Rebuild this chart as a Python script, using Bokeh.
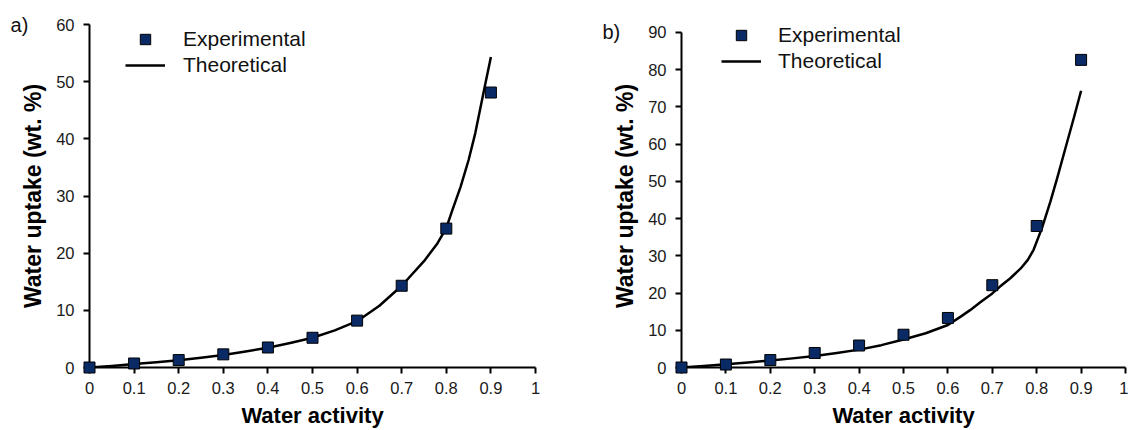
from bokeh.plotting import figure
from bokeh.layouts import row
from bokeh.models import Range1d, FixedTicker, CustomJSTickFormatter, Legend, LegendItem
from bokeh.core.properties import value
from bokeh.embed import file_html
from bokeh.resources import INLINE

# ---- data ----
wa_exp = [0, 0.1, 0.2, 0.3, 0.4, 0.5, 0.6, 0.7, 0.8, 0.9]
exp_a = [0, 0.7, 1.3, 2.3, 3.5, 5.2, 8.2, 14.3, 24.3, 48.1]
exp_b = [0, 0.8, 2.0, 3.9, 5.9, 8.8, 13.3, 22.1, 38.0, 82.6]

wa_fit_a = [0, 0.05, 0.1, 0.15, 0.2, 0.25, 0.3, 0.35, 0.4, 0.45, 0.5, 0.55, 0.6,
            0.65, 0.7, 0.75, 0.78, 0.8, 0.813, 0.832, 0.85, 0.865, 0.877, 0.888, 0.9]
fit_a = [0, 0.28, 0.6, 0.9, 1.25, 1.7, 2.2, 2.8, 3.45, 4.3, 5.2, 6.5, 8.1,
         10.8, 14.3, 18.6, 21.7, 24.4, 27.4, 31.6, 36.3, 41.0, 45.6, 49.8, 54.3]

wa_fit_b = [0, 0.05, 0.1, 0.15, 0.2, 0.25, 0.3, 0.35, 0.4, 0.45, 0.5, 0.55, 0.6,
            0.628, 0.65, 0.673, 0.7, 0.718, 0.74, 0.764, 0.78, 0.793, 0.812, 0.831,
            0.846, 0.865, 0.884, 0.9]
fit_b = [0, 0.4, 0.85, 1.35, 1.9, 2.45, 3.1, 3.9, 4.8, 6.0, 7.5, 9.2, 11.4,
         13.6, 15.4, 17.5, 19.9, 21.8, 23.9, 26.6, 28.9, 31.6, 37.5, 44.6,
         50.8, 59.0, 67.2, 74.3]

x_ticks = [0, 0.1, 0.2, 0.3, 0.4, 0.5, 0.6, 0.7, 0.8, 0.9, 1.0]
y_ticks_a = [0, 10, 20, 30, 40, 50, 60]
y_ticks_b = [0, 10, 20, 30, 40, 50, 60, 70, 80, 90]

FONT = "Liberation Sans"
MARKER = "#0a2a66"


def panel(width, wa_fit, exp, fit, ymax, ytop, yticks, tag, bl, br, bt,
          leg_loc, leg_spacing, standoff, tag_x):
    p = figure(width=width, height=430, x_range=Range1d(0, 1), y_range=Range1d(0, ytop),
               output_backend="svg", toolbar_location=None,
               min_border_left=bl, min_border_right=br,
               min_border_top=bt, min_border_bottom=63)
    p.outline_line_color = None
    p.xgrid.visible = False
    p.ygrid.visible = False

    for ax in (p.xaxis[0], p.yaxis[0]):
        ax.axis_line_width = 2
        ax.axis_line_color = "black"
        ax.major_tick_line_width = 2
        ax.major_tick_line_color = "black"
        ax.major_tick_in = 0
        ax.major_tick_out = 6
        ax.minor_tick_line_color = None
        ax.major_label_text_font = FONT
        ax.major_label_text_font_size = "16.5px"
        ax.major_label_text_color = "#1a1a1a"
        ax.axis_label_text_font = FONT
        ax.axis_label_text_font_style = "bold"
        ax.axis_label_text_color = "black"

    p.xaxis.ticker = FixedTicker(ticks=x_ticks)
    p.xaxis.formatter = CustomJSTickFormatter(code="return String(Math.round(tick*10)/10);")
    p.xaxis.axis_label = "Water activity"
    p.xaxis.axis_label_text_font_size = "22px"
    p.xaxis.major_label_standoff = 8
    p.xaxis.axis_label_standoff = 6

    p.yaxis.ticker = FixedTicker(ticks=yticks)
    p.yaxis.bounds = (0, ymax)
    p.yaxis.axis_label = "Water uptake (wt. %)"
    p.yaxis.axis_label_text_font_size = "23px"
    p.yaxis.major_label_standoff = 9
    p.yaxis.axis_label_standoff = 7

    ln = p.line(wa_fit, fit, line_color="black", line_width=2.5, line_join="round")
    sc = p.scatter(wa_exp, exp, marker="square", size=11, fill_color=MARKER,
                   line_color="black", line_width=1, level="overlay")

    leg = Legend(items=[LegendItem(label="Experimental", renderers=[sc]),
                        LegendItem(label="Theoretical", renderers=[ln])],
                 location=leg_loc, glyph_width=40, glyph_height=26, spacing=leg_spacing,
                 label_standoff=standoff, label_text_font=FONT, label_text_font_size="21px",
                 label_text_color="#111111", padding=0, margin=0,
                 border_line_alpha=0, background_fill_alpha=0)
    p.add_layout(leg)

    p.text(x=[tag_x], y=[ymax], text=[tag], text_font=value(FONT), text_font_size="20px",
           text_baseline="middle", text_align="left", text_color="#111111", level="overlay")
    return p


pa = panel(568, wa_fit_a, exp_a, fit_a, 60, 60, y_ticks_a, "a)", 89, 33, 24,
           (36, 289), -2, 18, -0.177)
pb = panel(560, wa_fit_b, exp_b, fit_b, 90, 92.1, y_ticks_b, "b)", 113, 3, 16,
           (40, 293), 0, 17, -0.178)

layout = row(pa, pb)
open("out.html", "w").write(file_html(layout, INLINE))
